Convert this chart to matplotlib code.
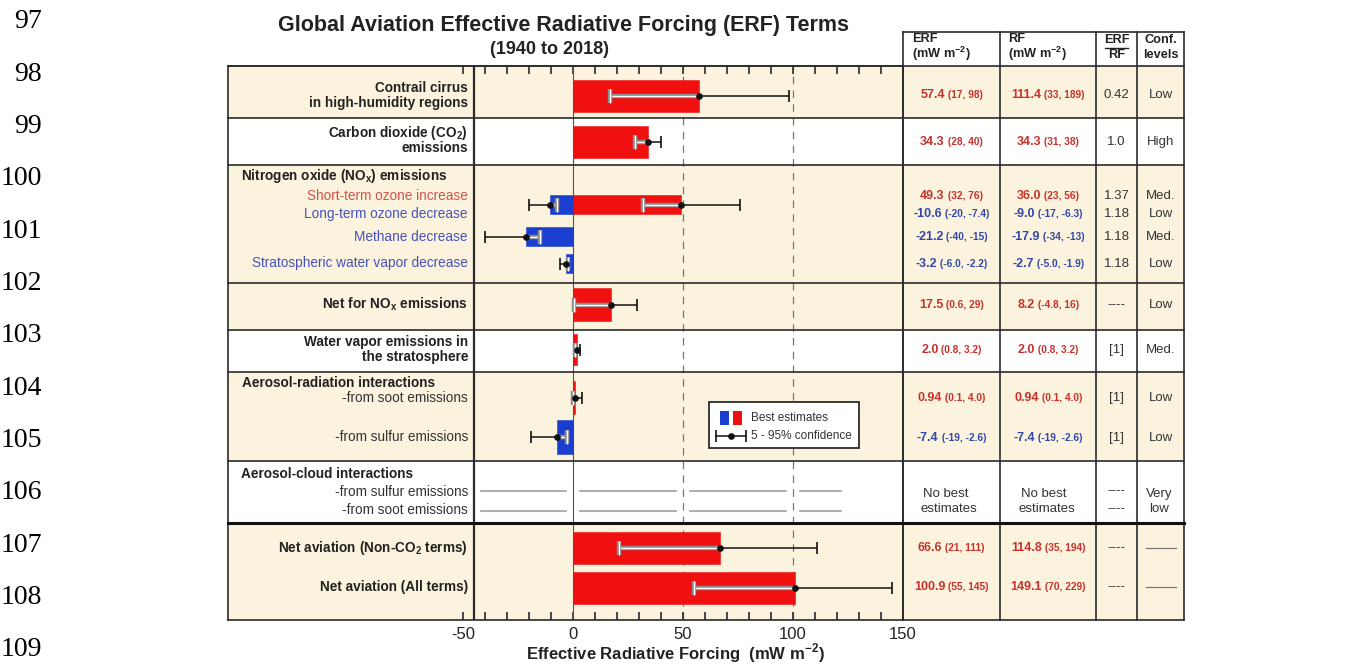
import matplotlib
matplotlib.use("Agg")
import matplotlib.pyplot as plt
import matplotlib.patheffects as pe
from matplotlib.patches import Rectangle
from matplotlib.offsetbox import TextArea, HPacker, AnnotationBbox

plt.rcParams['font.family'] = ['Liberation Sans', 'DejaVu Sans']
plt.rcParams['mathtext.fontset'] = 'custom'
plt.rcParams['mathtext.rm'] = 'Liberation Sans'
plt.rcParams['mathtext.bf'] = 'Liberation Sans:bold'

# ---------------- data ----------------
terms = ["Contrail cirrus", "Carbon dioxide", "Short-term ozone increase",
         "Long-term ozone decrease", "Methane decrease",
         "Stratospheric water vapor decrease", "Net for NOx emissions",
         "Water vapor emissions in the stratosphere", "Soot (aerosol-radiation)",
         "Sulfur (aerosol-radiation)", "Net aviation (Non-CO2 terms)",
         "Net aviation (All terms)"]
erf_best = ["57.4", "34.3", "49.3", "-10.6", "-21.2", "-3.2", "17.5", "2.0", "0.94", "-7.4", "66.6", "100.9"]
erf_low = ["17", "28", "32", "-20", "-40", "-6.0", "0.6", "0.8", "0.1", "-19", "21", "55"]
erf_high = ["98", "40", "76", "-7.4", "-15", "-2.2", "29", "3.2", "4.0", "-2.6", "111", "145"]
rf_best = ["111.4", "34.3", "36.0", "-9.0", "-17.9", "-2.7", "8.2", "2.0", "0.94", "-7.4", "114.8", "149.1"]
rf_low = ["33", "31", "23", "-17", "-34", "-5.0", "-4.8", "0.8", "0.1", "-19", "35", "70"]
rf_high = ["189", "38", "56", "-6.3", "-13", "-1.9", "16", "3.2", "4.0", "-2.6", "194", "229"]
erf_rf_ratio = ["0.42", "1.0", "1.37", "1.18", "1.18", "1.18", "----", "[1]", "[1]", "[1]", "----", "----"]
conf_levels = ["Low", "High", "Med.", "Low", "Med.", "Low", "Low", "Med.", "Low", "Low", None, None]
aci_span = (-42, 122)   # aerosol-cloud: no best estimate line extent
xtick_values = list(range(-50, 151, 10))

# ---------------- layout (pixel rows) ----------------
W, H = 1348, 666
bar_y = [96, 142, 205, 205, 237, 264, 305, 350, 398, 437, 548, 588]
bar_h = [32, 32, 19, 19, 19, 19, 33, 31, 33, 34, 32, 32]
tab_y = [95, 142, 196, 214, 237, 264, 305, 350, 398, 438, 548, 587]
bands = [(66, 118, True), (118, 165, False), (165, 283, True), (283, 330, True),
         (330, 372, False), (372, 461, True), (461, 523, False), (523, 620, True)]
BEIGE = '#fbf3dd'
RED = '#f01010'
BLUE = '#1a3fd0'
TRED = '#c8322c'
TBLUE = '#3347a8'
DARK = '#2b2b2b'

fig = plt.figure(figsize=(W / 100, H / 100), dpi=100)

# background overlay
bg = fig.add_axes([0, 0, 1, 1], zorder=0)
bg.set_xlim(0, W); bg.set_ylim(H, 0); bg.axis('off')
for top, bot, beige in bands:
    bg.add_patch(Rectangle((228, top), 1184 - 228, bot - top,
                           facecolor=BEIGE if beige else 'white', edgecolor='none'))

# main data axes
x0, x1 = 228, 903
ax = fig.add_axes([x0 / W, (H - 620) / H, (x1 - x0) / W, (620 - 66) / H], zorder=1)
ax.patch.set_alpha(0)
ax.set_xlim(-156.8, 150)
ax.set_ylim(620, 66)
ax.set_yticks([])
ax.set_xticks(xtick_values)
ax.set_xticklabels([str(v) if v % 50 == 0 else '' for v in xtick_values])
ax.tick_params(axis='x', direction='in', top=True, bottom=True, length=6, width=1.2,
               color=DARK, labelsize=12, labelcolor='#222', pad=5)
for s in ax.spines.values():
    s.set_linewidth(1.2); s.set_color(DARK)

ax.axvline(-45, color=DARK, lw=1.6, zorder=2)
ax.axvline(0, color='#555', lw=0.8, zorder=2)
for gx in (50, 100):
    ax.axvline(gx, color='#777', lw=0.9, ls=(0, (6, 5)), zorder=1)

eb = [float(v) for v in erf_best]
el = [float(v) for v in erf_low]
eh = [float(v) for v in erf_high]
colors = [RED if v > 0 else BLUE for v in eb]
ax.barh(bar_y, eb, height=bar_h, left=0, color=colors, edgecolor=colors, lw=0.4, zorder=3)

stroke = [pe.Stroke(linewidth=3.2, foreground='#8c8c8c'), pe.Normal()]
for y, b, lo, hi in zip(bar_y, eb, el, eh):
    ax.plot([lo, hi], [y, y], color='#111', lw=1.1, zorder=4, solid_capstyle='butt')
    ax.plot([lo, hi], [y, y], ls='none', marker='|', ms=9, mew=1.2, color='#111', zorder=4)
    a, c = max(lo, min(0, b)), min(hi, max(0, b))
    if c > a:
        ax.plot([a, c], [y, y], color='white', lw=1.0, zorder=5, path_effects=stroke,
                solid_capstyle='butt')
        for e in (lo, hi):
            if a <= e <= c:
                ax.plot([e], [y], ls='none', marker='|', ms=10, mew=1.0, color='white',
                        zorder=5, path_effects=stroke)
    ax.plot([b], [y], 'o', ms=3.8, color='#111', zorder=6)

# aerosol-cloud "no best estimate" lines, broken at gridlines
gaps = [0, 50, 100]
pts = [aci_span[0]] + [g for gx in gaps for g in (gx - 3, gx + 3)] + [aci_span[1]]
segs = [(pts[i], pts[i + 1]) for i in range(0, len(pts), 2)]
for yy in (491, 511):
    for s0, s1 in segs:
        ax.plot([s0, s1], [yy, yy], color='#a0a0a0', lw=1.2, zorder=3)

# foreground overlay (text, table, legend)
fg = fig.add_axes([0, 0, 1, 1], zorder=2)
fg.patch.set_alpha(0)
fg.set_xlim(0, W); fg.set_ylim(H, 0); fg.axis('off')

# line numbers
for k, n in enumerate(range(97, 110)):
    fg.text(42, 22 + k * 52.33, str(n), family='Liberation Serif', fontsize=20,
            ha='right', va='center', color='black')

# title
fg.text(564, 26, 'Global Aviation Effective Radiative Forcing (ERF) Terms',
        fontsize=15.5, fontweight='bold', ha='center', va='center', color='#222')
fg.text(549, 50, '(1940 to 2018)', fontsize=13, fontweight='bold',
        ha='center', va='center', color='#222')
fg.text(675, 653, r'Effective Radiative Forcing  (mW m$^{\mathbf{-2}}$)', fontsize=12,
        fontweight='bold', ha='center', va='center', color='#222')

# left labels
LX = 468
lab_b = dict(fontsize=9.8, fontweight='bold', color='#222', va='center')
lab_r = dict(fontsize=9.8, va='center')
fg.text(LX, 88, 'Contrail cirrus', ha='right', **lab_b)
fg.text(LX, 103, 'in high-humidity regions', ha='right', **lab_b)
fg.text(LX, 133, r'Carbon dioxide (CO$_\mathbf{2}$)', ha='right', **lab_b)
fg.text(LX, 148, 'emissions', ha='right', **lab_b)
fg.text(241, 176, r'Nitrogen oxide (NO$_\mathbf{x}$) emissions', ha='left', **lab_b)
fg.text(LX, 196, 'Short-term ozone increase', ha='right', color='#d4524c', **lab_r)
fg.text(LX, 214, 'Long-term ozone decrease', ha='right', color='#4652b8', **lab_r)
fg.text(LX, 237, 'Methane decrease', ha='right', color='#4652b8', **lab_r)
fg.text(LX, 263, 'Stratospheric water vapor decrease', ha='right', color='#4652b8', **lab_r)
fg.text(LX, 304, r'Net for NO$_\mathbf{x}$ emissions', ha='right', **lab_b)
fg.text(LX, 342, 'Water vapor emissions in', ha='right', **lab_b)
fg.text(LX, 357, 'the stratosphere', ha='right', **lab_b)
fg.text(242, 383, 'Aerosol-radiation interactions', ha='left', **lab_b)
fg.text(LX, 398, '-from soot emissions', ha='right', color='#333', **lab_r)
fg.text(LX, 437, '-from sulfur emissions', ha='right', color='#333', **lab_r)
fg.text(241, 474, 'Aerosol-cloud interactions', ha='left', **lab_b)
fg.text(LX, 492, '-from sulfur emissions', ha='right', color='#333', **lab_r)
fg.text(LX, 510, '-from soot emissions', ha='right', color='#333', **lab_r)
fg.text(LX, 548, r'Net aviation (Non-CO$_\mathbf{2}$ terms)', ha='right', **lab_b)
fg.text(LX, 587, 'Net aviation (All terms)', ha='right', **lab_b)

# table grid
cols = [903, 1000, 1096, 1137, 1184]
for cx in cols:
    fg.plot([cx, cx], [32, 620], color=DARK, lw=1.2)
fg.plot([903, 1184], [32, 32], color=DARK, lw=1.2)
for yy in (66, 118, 165, 283, 330, 372, 461):
    fg.plot([228, 1184], [yy, yy], color=DARK, lw=1.2)
fg.plot([228, 1184], [523, 523], color='#111', lw=2.2)
fg.plot([903, 1184], [620, 620], color=DARK, lw=1.2)

# table header
hd = dict(fontsize=9.2, fontweight='bold', color='#222', va='center')
fg.text(912, 39, 'ERF', ha='left', **hd)
fg.text(912, 54, r'(mW m$^{\mathbf{-2}}$)', ha='left', **hd)
fg.text(1008, 39, 'RF', ha='left', **hd)
fg.text(1008, 54, r'(mW m$^{\mathbf{-2}}$)', ha='left', **hd)
fg.text(1116.5, 40, 'ERF', ha='center', **hd)
fg.plot([1105, 1128], [47.5, 47.5], color='#222', lw=1.0)
fg.text(1116.5, 55, 'RF', ha='center', **hd)
fg.text(1160.5, 40, 'Conf.', ha='center', **hd)
fg.text(1160.5, 55, 'levels', ha='center', **hd)

ERF_CX, RF_CX, RAT_CX, CONF_CX = 951.5, 1048, 1116.5, 1160.5


def value_cell(xc, yc, best, lo, hi):
    col = TRED if float(best) > 0 else TBLUE
    t1 = TextArea(best, textprops=dict(fontsize=9, fontweight='bold', color=col))
    t2 = TextArea(' (%s, %s)' % (lo, hi), textprops=dict(fontsize=7.3, fontweight='bold', color=col))
    box = HPacker(children=[t1, t2], align='baseline', pad=0, sep=0)
    fg.add_artist(AnnotationBbox(box, (xc, yc), frameon=False, pad=0, box_alignment=(0.5, 0.5)))


cell = dict(fontsize=9.5, color='#333', ha='center', va='center')
for i in range(len(terms)):
    y = tab_y[i]
    value_cell(ERF_CX, y, erf_best[i], erf_low[i], erf_high[i])
    value_cell(RF_CX, y, rf_best[i], rf_low[i], rf_high[i])
    fg.text(RAT_CX, y, erf_rf_ratio[i], **cell)
    if conf_levels[i] is None:
        fg.plot([1146, 1176], [y, y], color='#777', lw=0.9)
    else:
        fg.text(CONF_CX, y, conf_levels[i], **cell)

# aerosol-cloud row in table
for cx in (ERF_CX - 3, RF_CX - 1):
    fg.text(cx - 3, 494, 'No best', **cell)
    fg.text(cx, 509, 'estimates', **cell)
fg.text(RAT_CX, 491, '----', **cell)
fg.text(RAT_CX, 509, '----', **cell)
fg.text(CONF_CX - 1, 494, 'Very', **cell)
fg.text(CONF_CX - 1, 509, 'low', **cell)

# legend
fg.add_patch(Rectangle((709, 402), 150, 46, facecolor='white', edgecolor=DARK, lw=1.3, zorder=5))
fg.add_patch(Rectangle((720, 411), 9, 14, facecolor=BLUE, edgecolor='none', zorder=6))
fg.add_patch(Rectangle((733, 411), 9, 14, facecolor=RED, edgecolor='none', zorder=6))
fg.text(751, 418, 'Best estimates', fontsize=8.5, color='#333', va='center', ha='left', zorder=6)
fg.plot([716, 746], [436, 436], color='#111', lw=1.1, zorder=6)
fg.plot([716, 746], [436, 436], ls='none', marker='|', ms=9, mew=1.2, color='#111', zorder=6)
fg.plot([731], [436], 'o', ms=3.8, color='#111', zorder=7)
fg.text(751, 436, '5 - 95% confidence', fontsize=8.5, color='#333', va='center', ha='left', zorder=6)

fig.savefig('out.png', dpi=100)
